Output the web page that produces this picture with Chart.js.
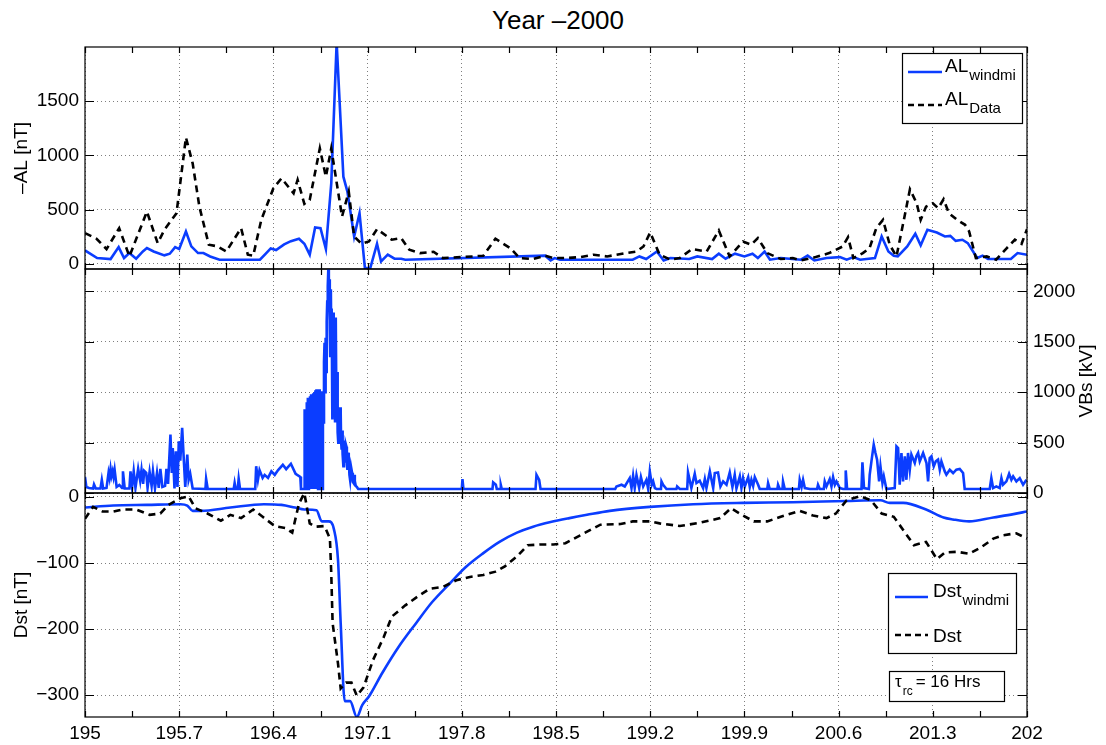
<!DOCTYPE html>
<html>
<head>
<meta charset="utf-8">
<script src="https://cdn.jsdelivr.net/npm/chart.js@4.4.0/dist/chart.umd.min.js"></script>
<style>
  body { margin: 0; background: #fff; width: 1106px; height: 745px; position: relative; overflow: hidden;
         font-family: "Liberation Sans", Arial, sans-serif; }
  #title { position: absolute; left: 0; top: 5px; width: 1116px; text-align: center; font-size: 26px; color: #000; }
  canvas { position: absolute; left: 0; }
</style>
</head>
<body>
<div id="title">Year –2000</div>
<canvas id="al" width="1106" height="240" style="top:40px"></canvas>
<canvas id="vbs" width="1106" height="240" style="top:262px"></canvas>
<canvas id="dst" width="1106" height="259" style="top:486px"></canvas>
<script>
// day of year axis
const X_TICKS = [195, 195.7, 196.4, 197.1, 197.8, 198.5, 199.2, 199.9, 200.6, 201.3, 202];
const X_LABELS = ['195', '195.7', '196.4', '197.1', '197.8', '198.5', '199.2', '199.9', '200.6', '201.3', '202'];
const AL_TICKS = [0, 500, 1000, 1500];
const VBS_TICKS = [0, 500, 1000, 1500, 2000];
const DST_TICKS = [-300, -200, -100, 0];

// -AL [nT], [day, value]
const AL_WINDMI = [
  [195.0,123],[195.09,52],[195.19,43],[195.25,153],[195.29,52],[195.33,98],[195.38,46],[195.43,113],
  [195.46,144],[195.51,113],[195.59,77],[195.63,92],[195.67,153],[195.70,135],[195.75,297],[195.79,160],
  [195.84,98],[195.88,98],[195.93,67],[196.00,37],[196.08,37],[196.30,37],[196.34,89],[196.38,141],
  [196.42,126],[196.48,178],[196.53,208],[196.59,230],[196.63,184],[196.67,83],[196.71,334],[196.75,328],
  [196.79,135],[196.83,742],[196.87,2040],[196.92,803],[196.95,665],[197.00,251],[197.04,466],[197.08,-40],
  [197.12,-40],[197.17,184],[197.20,21],[197.25,83],[197.30,46],[197.35,46],[197.38,37],[198.42,74],
  [198.46,30],[198.49,52],[198.53,37],[199.07,37],[199.12,67],[199.17,43],[199.25,113],[199.30,30],
  [199.35,52],[199.49,43],[199.55,67],[199.66,43],[199.71,92],[199.76,46],[199.83,92],[199.90,67],
  [199.96,92],[200.00,52],[200.05,113],[200.09,37],[200.17,52],[200.32,37],[200.37,74],[200.42,30],
  [200.51,52],[200.61,61],[200.66,37],[200.71,61],[200.76,37],[200.87,52],[200.92,251],[200.97,113],
  [201.01,74],[201.04,67],[201.11,159],[201.17,276],[201.21,169],[201.26,313],[201.33,288],[201.39,251],
  [201.43,257],[201.47,211],[201.52,221],[201.56,190],[201.63,52],[201.67,74],[201.71,43],[201.88,43],
  [201.93,98],[202.0,83]
];
const AL_OBS = [
  [195.0,282],[195.086,230],[195.16,135],[195.254,328],[195.33,67],[195.46,481],[195.54,190],[195.59,313],
  [195.68,466],[195.75,1165],[195.80,926],[195.85,527],[195.92,175],[195.98,161],[196.05,113],[196.16,328],
  [196.21,83],[196.25,74],[196.31,405],[196.40,696],[196.46,788],[196.55,650],[196.58,773],[196.63,552],
  [196.67,589],[196.745,1064],[196.79,803],[196.83,1064],[196.91,435],[196.96,665],[197.0,251],[197.055,184],
  [197.11,205],[197.17,319],[197.28,221],[197.35,236],[197.41,129],[197.49,98],[197.59,110],[197.66,52],
  [197.79,61],[197.88,67],[197.96,74],[198.05,230],[198.16,144],[198.23,52],[198.33,43],[198.42,74],
  [198.48,52],[198.58,52],[198.68,61],[198.78,83],[198.88,67],[199.02,98],[199.10,113],[199.15,159],
  [199.20,288],[199.27,83],[199.35,37],[199.42,52],[199.51,135],[199.62,113],[199.71,306],[199.79,67],
  [199.89,205],[199.95,175],[200.0,236],[200.07,98],[200.17,43],[200.26,52],[200.32,30],[200.43,61],
  [200.53,98],[200.63,159],[200.67,245],[200.71,52],[200.78,98],[200.83,144],[200.88,328],[200.93,405],
  [200.98,175],[201.03,67],[201.09,435],[201.13,687],[201.18,558],[201.21,405],[201.25,527],[201.30,558],
  [201.34,512],[201.38,595],[201.42,466],[201.48,405],[201.54,359],[201.57,298],[201.62,52],[201.70,67],
  [201.77,37],[201.85,144],[201.91,221],[201.96,184],[202.0,319]
];

// VBs [kV]
const VBS = [
  [195.000,160],[195.010,60],[195.030,50],[195.060,45],[195.067,85],[195.080,45],[195.115,45],[195.125,130],
  [195.135,45],[195.160,50],[195.175,200],[195.182,150],[195.190,240],[195.197,170],[195.205,215],[195.212,160],
  [195.220,230],[195.235,60],[195.255,80],[195.275,50],[195.282,215],[195.295,45],[195.330,45],[195.338,215],
  [195.350,60],[195.362,215],[195.375,50],[195.395,240],[195.410,120],[195.420,230],[195.432,90],[195.440,220],
  [195.455,200],[195.465,50],[195.480,210],[195.495,70],[195.505,215],[195.520,45],[195.535,200],[195.548,50],
  [195.560,240],[195.575,60],[195.595,70],[195.605,240],[195.617,90],[195.635,580],[195.645,200],[195.652,447],
  [195.665,45],[195.675,414],[195.687,60],[195.697,513],[195.708,320],[195.722,646],[195.735,310],[195.745,60],
  [195.760,380],[195.770,130],[195.782,190],[195.800,45],[195.895,40],[195.900,140],[195.912,40],[196.105,40],
  [196.112,100],[196.120,40],[196.135,40],[196.142,140],[196.152,40],[196.265,40],[196.272,265],[196.285,130],
  [196.297,227],[196.320,150],[196.335,180],[196.360,150],[196.385,215],[196.410,180],[196.435,227],[196.470,280],
  [196.495,237],[196.530,290],[196.565,190],[196.600,160],[196.605,40],[196.628,40],
  [196.632,830],[196.636,60],[196.640,820],[196.644,40],[196.648,900],[196.652,300],[196.656,945],[196.660,40],
  [196.664,940],[196.668,60],[196.672,960],[196.676,40],[196.680,980],[196.684,200],[196.688,975],[196.692,40],
  [196.696,990],[196.700,40],[196.704,1000],[196.708,80],[196.712,1020],[196.716,40],[196.720,1030],[196.724,350],
  [196.728,1030],[196.732,40],[196.736,1020],[196.740,60],[196.744,1030],[196.748,40],[196.752,1000],[196.756,120],
  [196.760,1010],[196.764,40],[196.768,990],[196.772,700],[196.776,1300],[196.780,1490],[196.784,1000],[196.788,1540],
  [196.792,1200],[196.796,1700],[196.800,1900],[196.804,2050],[196.808,2220],[196.812,1800],[196.815,2120],[196.819,1600],
  [196.822,1360],[196.827,2020],[196.830,1500],[196.833,1830],[196.838,730],[196.843,1790],[196.848,1100],[196.852,1740],
  [196.855,1000],[196.858,712],[196.862,1500],[196.865,1740],[196.868,900],[196.870,790],[196.873,1200],[196.876,880],
  [196.879,600],[196.882,500],[196.885,820],[196.888,810],[196.891,560],[196.893,660],[196.896,850],[196.900,800],
  [196.903,520],[196.907,430],[196.910,620],[196.913,560],[196.916,380],[196.920,265],[196.924,520],[196.928,460],
  [196.931,300],[196.935,360],[196.939,480],[196.943,460],[196.946,280],[196.950,230],[196.955,400],[196.960,330],
  [196.965,180],[196.970,130],[196.977,260],[196.985,200],[196.990,110],[196.995,100],[197.000,180],[197.005,120],
  [197.012,70],[197.020,60],[197.030,40],
  [197.800,40],[197.805,138],[197.812,40],[198.028,40],[198.033,105],[198.053,82],[198.060,40],[198.085,40],
  [198.090,80],[198.097,40],[198.348,40],[198.355,181],[198.375,131],[198.385,40],
  [198.940,40],[198.949,65],[198.987,82],[199.011,65],[199.048,148],[199.061,49],[199.073,171],[199.085,49],
  [199.098,177],[199.118,49],[199.131,158],[199.148,65],[199.172,131],[199.185,40],[199.197,214],[199.212,82],
  [199.222,115],[199.235,49],[199.247,40],[199.280,40],[199.284,115],[199.296,82],[199.321,40],[199.395,40],
  [199.400,65],[199.420,40],[199.475,40],[199.481,204],[199.506,49],[199.531,191],[199.544,98],[199.568,121],
  [199.593,49],[199.606,138],[199.618,49],[199.643,214],[199.668,49],[199.680,198],[199.704,204],[199.722,65],
  [199.742,115],[199.767,82],[199.791,204],[199.811,60],[199.828,181],[199.841,45],[199.866,165],[199.878,50],
  [199.890,148],[199.903,65],[199.928,158],[199.940,60],[199.952,131],[199.965,70],[199.977,158],[200.002,82],
  [200.014,40],[200.070,40],[200.076,98],[200.088,40],[200.145,40],[200.150,82],[200.162,40],[200.183,40],
  [200.187,115],[200.200,40],[200.305,40],[200.311,131],[200.325,60],[200.336,131],[200.349,49],[200.386,40],
  [200.440,40],[200.447,82],[200.460,40],[200.490,40],[200.497,115],[200.510,65],[200.534,138],[200.547,65],
  [200.559,158],[200.572,82],[200.584,115],[200.609,49],[200.634,40],[200.648,40],[200.653,224],[200.663,40],
  [200.770,40],[200.777,304],[200.789,49],[200.825,40],[200.831,181],[200.844,314],[200.861,480],[200.874,397],
  [200.886,331],[200.901,115],[200.911,264],[200.926,98],[200.936,165],[200.955,40],[201.017,49],[201.030,463],
  [201.042,447],[201.054,82],[201.067,397],[201.079,115],[201.092,364],[201.104,131],[201.116,397],[201.129,231],
  [201.141,381],[201.166,297],[201.178,364],[201.191,397],[201.203,314],[201.228,397],[201.253,297],[201.265,115],
  [201.277,347],[201.290,364],[201.307,264],[201.322,314],[201.339,331],[201.352,231],[201.364,314],[201.389,214],
  [201.401,181],[201.426,231],[201.451,198],[201.475,231],[201.500,238],[201.525,198],[201.537,40],[201.723,40],
  [201.735,148],[201.748,49],[201.772,65],[201.797,49],[201.810,148],[201.822,82],[201.847,115],[201.867,191],
  [201.884,131],[201.897,165],[201.921,115],[201.946,148],[201.971,82],[201.996,131]
];

// Dst [nT]
const DST_WINDMI = [
  [195.0,-16],[195.21,-13],[195.46,-12],[195.71,-11],[195.76,-13],[195.80,-21],[195.86,-21],[196.08,-16],
  [196.33,-11],[196.46,-12],[196.56,-16],[196.63,-19],[196.72,-20],[196.76,-37],[196.81,-37],[196.85,-49],
  [196.88,-95],[196.90,-191],[196.93,-309],[196.97,-309],[197.02,-333],[197.06,-315],[197.11,-302],[197.21,-266],
  [197.33,-227],[197.46,-191],[197.58,-159],[197.71,-131],[197.83,-106],[197.96,-85],[198.08,-68],[198.21,-54],
  [198.33,-45],[198.46,-38],[198.60,-32],[198.73,-27],[198.90,-21],[199.20,-15],[199.52,-11],[199.89,-9],
  [200.26,-8],[200.66,-6],[200.91,-5],[200.98,-9],[201.08,-9],[201.25,-19],[201.38,-31],[201.45,-34],
  [201.57,-37],[201.75,-31],[201.90,-26],[202.0,-22]
];
const DST_OBS = [
  [195.0,-33],[195.06,-15],[195.13,-22],[195.21,-22],[195.28,-19],[195.38,-19],[195.48,-27],[195.56,-25],
  [195.62,-12],[195.71,-2],[195.77,1],[195.82,-17],[195.91,-25],[196.01,-36],[196.08,-27],[196.16,-32],
  [196.25,-19],[196.32,-30],[196.41,-44],[196.49,-47],[196.54,-54],[196.59,-10],[196.63,6],[196.67,-40],
  [196.71,-45],[196.78,-44],[196.82,-63],[196.83,-116],[196.84,-191],[196.88,-252],[196.90,-290],[196.94,-281],
  [196.98,-281],[197.02,-301],[197.07,-288],[197.14,-247],[197.22,-212],[197.28,-181],[197.38,-164],[197.47,-151],
  [197.56,-139],[197.66,-136],[197.76,-126],[197.86,-121],[197.96,-118],[198.05,-113],[198.12,-105],[198.21,-90],
  [198.29,-73],[198.38,-72],[198.48,-72],[198.57,-70],[198.68,-58],[198.83,-42],[198.98,-41],[199.07,-37],
  [199.20,-37],[199.27,-40],[199.42,-44],[199.57,-39],[199.72,-32],[199.80,-17],[199.88,-27],[199.97,-37],
  [200.07,-37],[200.17,-30],[200.31,-21],[200.41,-28],[200.51,-32],[200.58,-25],[200.66,-5],[200.76,1],
  [200.84,-5],[200.92,-25],[201.01,-30],[201.08,-50],[201.16,-73],[201.25,-68],[201.33,-94],[201.39,-84],
  [201.48,-83],[201.57,-86],[201.66,-76],[201.75,-63],[201.82,-58],[201.92,-55],[202.0,-63]
];

const BLUE = '#0b3dff';
const FAMILY = "'Liberation Sans', Arial, Helvetica, sans-serif";
const font = size => `${size}px ${FAMILY}`;
Chart.defaults.font.family = FAMILY;
Chart.defaults.color = '#000';

// tick marks every half step between labelled ticks
const X_MARKS = X_TICKS.flatMap((v, i) => i ? [(v + X_TICKS[i - 1]) / 2, v] : [v]);

const toXY = rows => rows.map(r => ({ x: r[0], y: r[1] }));

function xScale(labels) {
  return {
    type: 'linear', min: 195, max: 202,
    afterBuildTicks: s => { s.ticks = X_TICKS.map(v => ({ value: v })); },
    afterFit: s => { s.height = labels ? 28 : 0; s.paddingLeft = 0; s.paddingRight = 0; },
    grid: { color: 'rgba(0,0,0,0.5)', drawTicks: false },
    border: { display: false, dash: [1, 3] },
    ticks: { display: labels, padding: 5, font: { size: 19 }, maxRotation: 0, autoSkip: false,
             callback: (v, i) => X_LABELS[i] }
  };
}

function yScale(min, max, ticks, position, width) {
  return {
    type: 'linear', position, min, max,
    afterBuildTicks: s => { s.ticks = ticks.map(v => ({ value: v })); },
    // fixed width, and no extra room for the end labels
    afterFit: s => { s.width = width; s.paddingTop = 0; s.paddingBottom = 0; },
    grid: { color: 'rgba(0,0,0,0.5)', drawTicks: false },
    border: { display: false, dash: [1, 3] },
    ticks: { padding: 6, font: { size: 19 }, callback: v => String(v).replace('-', '\u2212') }
  };
}

// box with inward ticks, like the old plotting style
const frame = {
  id: 'frame',
  afterDraw(chart) {
    const { ctx, chartArea: a, scales } = chart;
    const y = scales.y;
    ctx.save();
    ctx.strokeStyle = '#000';
    ctx.lineWidth = 1.2;
    ctx.strokeRect(a.left, a.top, a.right - a.left, a.bottom - a.top);
    ctx.beginPath();
    for (const v of X_MARKS) {
      const px = Math.round(scales.x.getPixelForValue(v)) + 0.5;
      ctx.moveTo(px, a.top); ctx.lineTo(px, a.top + 6);
      ctx.moveTo(px, a.bottom); ctx.lineTo(px, a.bottom - 6);
    }
    for (const t of y.ticks) {
      const py = Math.round(y.getPixelForValue(t.value)) + 0.5;
      ctx.moveTo(a.left, py); ctx.lineTo(a.left + 9, py);
      ctx.moveTo(a.right, py); ctx.lineTo(a.right - 9, py);
    }
    ctx.stroke();
    ctx.restore();
  }
};

function axisTitle(text, x) {
  return {
    id: 'axisTitle',
    afterDraw(chart) {
      const { ctx, chartArea: a } = chart;
      ctx.save();
      ctx.translate(x, (a.top + a.bottom) / 2);
      ctx.rotate(-Math.PI / 2);
      ctx.font = font(19);
      ctx.fillStyle = '#000';
      ctx.textAlign = 'center';
      ctx.textBaseline = 'middle';
      ctx.fillText(text, 0, 0);
      ctx.restore();
    }
  };
}

// legend with subscripts; box is placed from the top right corner of the plot
function legendBox(box, entries) {
  return {
    id: 'legendBox',
    afterDraw(chart) {
      const { ctx, chartArea: a } = chart;
      const left = a.right - box.right - box.width, top = a.top + box.top;
      ctx.save();
      ctx.fillStyle = '#fff';
      ctx.fillRect(left, top, box.width, box.height);
      ctx.strokeStyle = '#000';
      ctx.lineWidth = 1.2;
      ctx.strokeRect(left + 0.5, top + 0.5, box.width, box.height);
      for (const e of entries) {
        if (e.color) {
          ctx.beginPath();
          ctx.strokeStyle = e.color;
          ctx.lineWidth = 2.5;
          ctx.setLineDash(e.dash || []);
          ctx.moveTo(left + e.x0, top + e.ly);
          ctx.lineTo(left + e.x1, top + e.ly);
          ctx.stroke();
          ctx.setLineDash([]);
        }
        ctx.fillStyle = '#000';
        ctx.textBaseline = 'alphabetic';
        ctx.font = font(e.size);
        let tx = left + e.tx;
        ctx.fillText(e.text, tx, top + e.ty);
        tx += ctx.measureText(e.text).width + 1;
        if (e.sub) {
          ctx.font = font(e.subSize);
          ctx.fillText(e.sub, tx, top + e.ty + e.subDy);
          tx += ctx.measureText(e.sub).width + 3;
        }
        if (e.tail) {
          ctx.font = font(e.size);
          ctx.fillText(e.tail, tx, top + e.ty);
        }
      }
      ctx.restore();
    }
  };
}

function baseOptions(scales, padding) {
  return {
    responsive: false, animation: false, events: [],
    layout: { padding },
    plugins: { legend: { display: false }, tooltip: { enabled: false } },
    elements: { point: { radius: 0 }, line: { borderWidth: 2.6, tension: 0 } },
    scales
  };
}

new Chart(document.getElementById('al'), {
  type: 'line',
  data: {
    datasets: [
      { label: 'AL windmi', data: toXY(AL_WINDMI), borderColor: BLUE, order: 1 },
      { label: 'AL Data', data: toXY(AL_OBS), borderColor: '#000', borderDash: [7, 5], order: 0 }
    ]
  },
  options: baseOptions({ x: xScale(false), y: yScale(-49, 2000, AL_TICKS, 'left', 85) },
                       { top: 7, right: 79, bottom: 11, left: 0 }),
  plugins: [frame, axisTitle('–AL [nT]', 22), legendBox({ right: 5, top: 6, width: 120, height: 70 }, [
    { color: BLUE, x0: 6, x1: 40, ly: 19, tx: 43, ty: 19, text: 'AL', size: 19, sub: 'windmi', subSize: 15, subDy: 8 },
    { color: '#000', dash: [6, 4], x0: 6, x1: 40, ly: 52, tx: 43, ty: 52, text: 'AL', size: 19, sub: 'Data', subSize: 15, subDy: 8 }
  ])]
});

new Chart(document.getElementById('vbs'), {
  type: 'line',
  data: {
    datasets: [
      { label: 'VBs', data: toXY(VBS), borderColor: BLUE }
    ]
  },
  options: baseOptions({ x: xScale(false), y: yScale(0, 2222, VBS_TICKS, 'right', 79) },
                       { top: 7, right: 0, bottom: 9, left: 85 }),
  plugins: [frame, axisTitle('VBs [kV]', 1087)]
});

new Chart(document.getElementById('dst'), {
  type: 'line',
  data: {
    datasets: [
      { label: 'Dst windmi', data: toXY(DST_WINDMI), borderColor: BLUE, cubicInterpolationMode: 'monotone', order: 1 },
      { label: 'Dst', data: toXY(DST_OBS), borderColor: '#000', borderDash: [7, 5], order: 0 }
    ]
  },
  options: baseOptions({ x: xScale(true), y: yScale(-333, 6, DST_TICKS, 'left', 85) },
                       { top: 7, right: 79, bottom: 0, left: 0 }),
  plugins: [frame, axisTitle('Dst [nT]', 22),
    legendBox({ right: 11, top: 80, width: 128, height: 80 }, [
      { color: BLUE, x0: 7, x1: 40, ly: 24, tx: 45, ty: 24, text: 'Dst', size: 19, sub: 'windmi', subSize: 15, subDy: 8 },
      { color: '#000', dash: [6, 4], x0: 7, x1: 40, ly: 62, tx: 45, ty: 69, text: 'Dst', size: 19 }
    ]),
    legendBox({ right: 23, top: 178, width: 115, height: 30 }, [
      { tx: 6, ty: 16, text: 'τ', size: 17, sub: 'rc', subSize: 12, subDy: 8, tail: '= 16 Hrs' }
    ])
  ]
});
</script>
</body>
</html>
